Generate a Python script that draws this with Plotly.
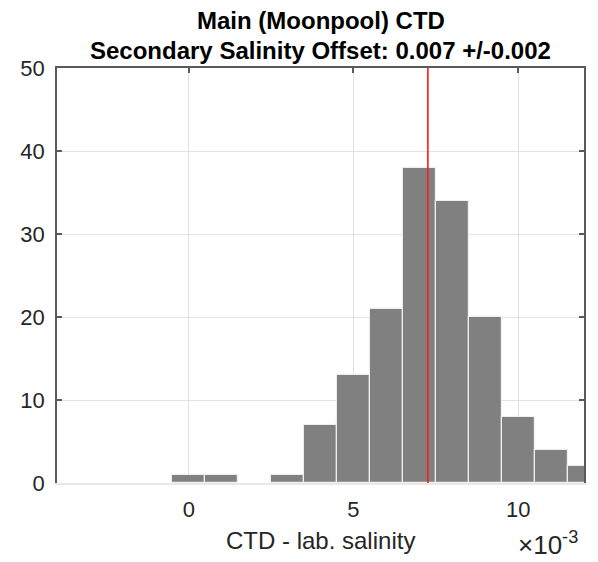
import plotly.graph_objects as go

# Data
bin_centers = [0.000, 0.001, 0.003, 0.004, 0.005, 0.006, 0.007, 0.008, 0.009, 0.010, 0.011, 0.012]
counts = [1, 1, 1, 7, 13, 21, 38, 34, 20, 8, 4, 2]
bin_width = 0.001
offset_value = 0.00726
x_tick_vals = [0, 0.005, 0.010]
x_tick_text = ["0", "5", "10"]
y_tick_vals = [0, 10, 20, 30, 40, 50]
title_lines = ["Main (Moonpool) CTD", "Secondary Salinity Offset: 0.007 +/-0.002"]
x_label = "CTD - lab. salinity"
x_exponent = "\u00d710<sup>-3</sup>"

FONT = "Liberation Sans, Arial, Helvetica, sans-serif"
AX = "#262626"
AXLINE = "#5a5a5a"
GRID = "#e2e2e2"

fig = go.Figure()
fig.add_trace(go.Bar(
    x=bin_centers, y=counts, width=bin_width,
    marker=dict(color="#808080", line=dict(color="#eeeeee", width=1.2)),
    showlegend=False, hoverinfo="x+y"))
fig.add_trace(go.Scatter(
    x=[offset_value, offset_value], y=[0, 50], mode="lines",
    xaxis="x2",
    line=dict(color="#ff1a1a", width=1.6), showlegend=False))

fig.update_layout(
    width=590, height=554,
    margin=dict(l=43, r=14, t=60, b=79),
    paper_bgcolor="white", plot_bgcolor="white",
    bargap=0,
    font=dict(family=FONT, color=AX, size=22),
    xaxis=dict(
        range=[-0.004, 0.012], tickvals=x_tick_vals, ticktext=x_tick_text,
        showgrid=True, gridcolor=GRID, gridwidth=1,
        showline=True, linecolor="#e8e8e8", linewidth=1.5,
        ticks="", ticklabelstandoff=6,
        tickfont=dict(size=22, color=AX), zeroline=False),
    xaxis2=dict(
        overlaying="x", side="top", matches="x",
        range=[-0.004, 0.012], tickvals=x_tick_vals,
        showticklabels=False, showgrid=False,
        showline=True, linecolor=AXLINE, linewidth=1.5,
        ticks="inside", ticklen=5, tickcolor=AXLINE, tickwidth=1.5,
        zeroline=False),
    yaxis=dict(
        range=[0, 50], tickvals=y_tick_vals,
        showgrid=True, gridcolor=GRID, gridwidth=1,
        showline=True, linecolor=AXLINE, linewidth=1.5, mirror="ticks",
        ticks="inside", ticklen=5, tickcolor=AXLINE, tickwidth=1.5,
        ticklabelstandoff=6,
        tickfont=dict(size=22, color=AX), zeroline=False),
    annotations=[
        dict(text="<b>%s</b>" % title_lines[0], xref="paper", yref="paper",
             x=0.5, y=1.114, xanchor="center", yanchor="middle", showarrow=False,
             font=dict(size=24, color="#000000", family=FONT)),
        dict(text="<b>%s</b>" % title_lines[1], xref="paper", yref="paper",
             x=0.5, y=1.041, xanchor="center", yanchor="middle", showarrow=False,
             font=dict(size=24, color="#000000", family=FONT)),
        dict(text=x_label, xref="paper", yref="paper",
             x=0.5, y=-0.1385, xanchor="center", yanchor="middle", showarrow=False,
             font=dict(size=24, color=AX, family=FONT)),
        dict(text=x_exponent, xref="paper", yref="paper",
             x=0.9925, y=-0.145, xanchor="right", yanchor="middle", showarrow=False,
             font=dict(size=26, color=AX, family=FONT)),
    ],
)

fig.write_html("out.html")
